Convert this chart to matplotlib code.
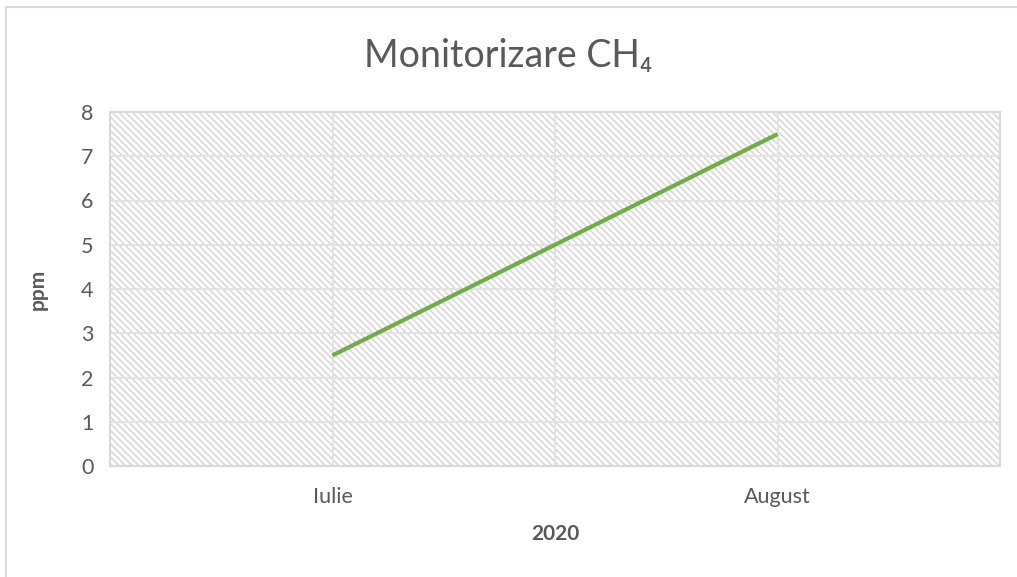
import matplotlib.pyplot as plt
from matplotlib.patches import Rectangle

plt.rcParams['font.family'] = ['Lato', 'DejaVu Sans']
plt.rcParams['hatch.color'] = '#d6d6d6'
plt.rcParams['hatch.linewidth'] = 1.1

# data
months = ['Iulie', 'August']
ppm = [2.5, 7.5]
yticks = [0, 1, 2, 3, 4, 5, 6, 7, 8]

gray = '#595959'
grid = '#e3e3e3'

fig = plt.figure(figsize=(10.17, 5.77), dpi=100)
ax = fig.add_axes([110 / 1017, 1 - 466 / 577, 890 / 1017, 354 / 577])

# hatched plot area
ax.add_patch(Rectangle((0, 0), 1, 1, transform=ax.transAxes, facecolor='white',
                       hatch='\\\\\\\\\\', edgecolor='#d6d6d6', lw=0, zorder=0))

x = list(range(len(months)))
ax.set_xlim(-0.5, len(months) - 0.5)
ax.set_ylim(0, 8)

for yv in yticks:
    ax.axhline(yv, color=grid, lw=1.5, zorder=1)
for xv in [-0.5, 0, 0.5, 1, 1.5]:
    ax.axvline(xv, color=grid, lw=1.5, zorder=1)

ax.plot(x, ppm, color='#70AD47', lw=3, solid_capstyle='butt', zorder=3)

ax.set_xticks(x)
ax.set_xticklabels(months)
ax.set_yticks(yticks)
ax.tick_params(length=0, labelsize=15.5, colors=gray)
ax.tick_params(axis='x', pad=15)
ax.tick_params(axis='y', pad=12)
for s in ax.spines.values():
    s.set_color('#d9d9d9')
    s.set_linewidth(1.5)

ax.set_xlabel('2020', fontsize=15, fontweight='bold', color=gray, labelpad=12)
ax.set_ylabel('ppm', fontsize=15, fontweight='bold', color=gray, labelpad=24)

fig.text(0.5, 1 - 56 / 577, 'Monitorizare CH\u2084', ha='center', va='center',
         fontsize=27, color=gray)

# chart border
fig.patches.append(Rectangle((5.5 / 1017, -0.1), 1.2, 1 - 6.5 / 577 + 0.1,
                             transform=fig.transFigure, fill=False,
                             edgecolor='#d9d9d9', lw=1.5))

fig.savefig('out.png', dpi=100)
